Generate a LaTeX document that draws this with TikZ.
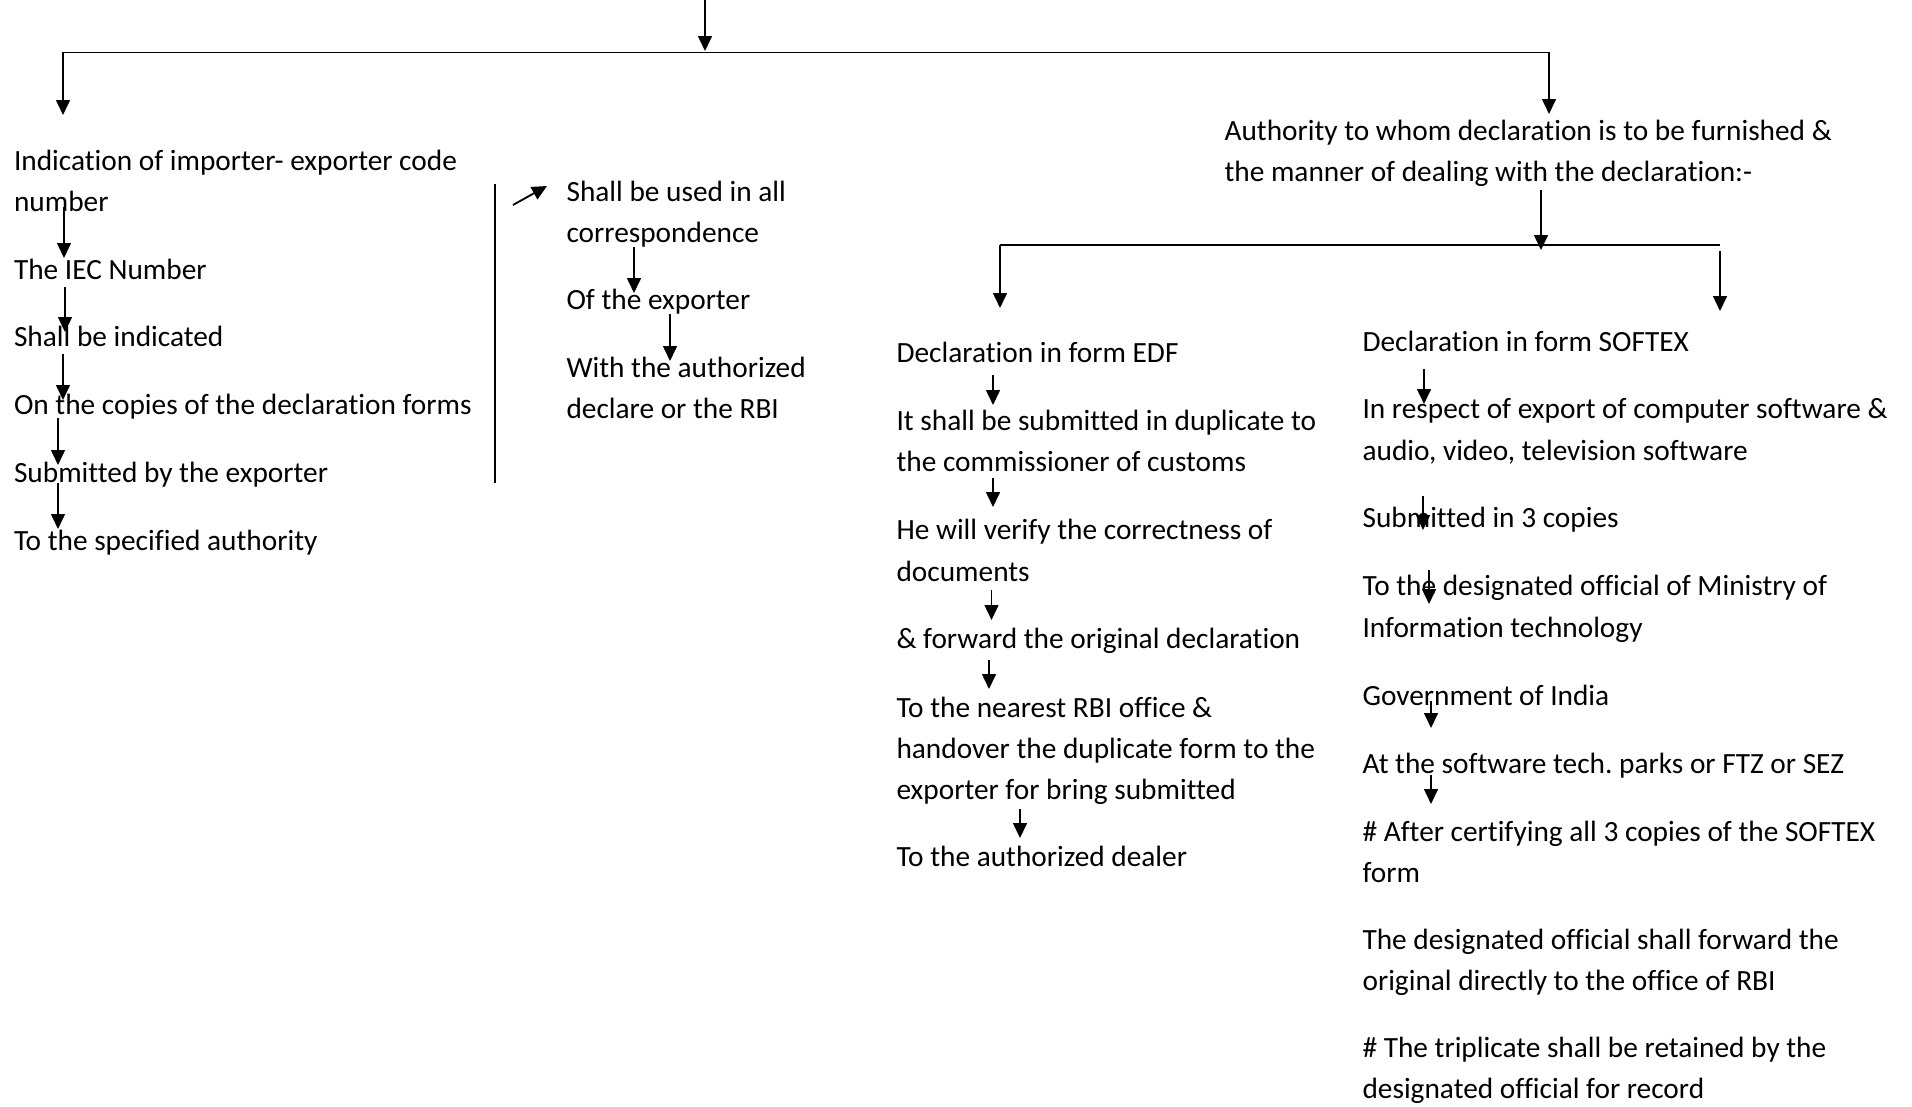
\documentclass[tikz,border=0pt]{standalone}
\usepackage{fontspec}
\setmainfont{Carlito}[Ligatures={NoCommon}]
\usetikzlibrary{arrows.meta}
\begin{document}
\frenchspacing
\begin{tikzpicture}[x=0.375pt,y=-0.375pt,
  txt/.style={anchor=base west, inner sep=0pt, text width=260pt, align=left,
              font=\fontsize{11}{15.4}\selectfont,
              execute at begin node={\spaceskip=0pt\xspaceskip=0pt\relax}},
  link/.style={line width=0.7pt, -{Triangle[length=5.6pt,width=5.2pt]}},
  bar/.style={line width=0.7pt},
  rule/.style={line width=0.5pt}]
\useasboundingbox (0,0) rectangle (1912,1107);

% ---------- text blocks ----------
% left column
\node[txt] (iec) at (13.5,170.5) {Indication of importer- exporter code\\number};
\node[txt] (num) at (13.5,279.5) {The IEC Number};
\node[txt] (ind) at (13.5,347) {Shall be indicated};
\node[txt] (cop) at (13.5,415) {On the copies of the declaration forms};
\node[txt] (sub) at (13.5,483) {Submitted by the exporter};
\node[txt] (spa) at (13.5,550.5) {To the specified authority};

% middle column
\node[txt] (use) at (566,201.5) {Shall be used in all\\correspondence};
\node[txt] (oex) at (566,310) {Of the exporter};
\node[txt] (wad) at (566,377.5) {With the authorized\\declare or the RBI};

% authority heading
\node[txt] (auth) at (1224,140.5) {Authority to whom declaration is to be furnished \&\\the manner of dealing with the declaration:-};

% EDF column
\node[txt] (edf) at (896,362.3) {Declaration in form EDF};
\node[txt] (dup) at (896,430.5) {It shall be submitted in duplicate to\\the commissioner of customs};
\node[txt] (ver) at (896,540) {He will verify the correctness of\\documents};
\node[txt] (fwd) at (896,648.5) {\& forward the original declaration};
\node[txt] (rbi) at (896,717) {To the nearest RBI office \&\\handover the duplicate form to the\\exporter for bring submitted};
\node[txt] (dea) at (896,866) {To the authorized dealer};

% SOFTEX column
\node[txt] (sft) at (1362,351.7) {Declaration in form SOFTEX};
\node[txt] (res) at (1362,419) {In respect of export of computer software \&\\audio, video, television software};
\node[txt] (three) at (1362,528) {Submitted in 3 copies};
\node[txt] (min) at (1362,596) {To the designated official of Ministry of\\Information technology};
\node[txt] (gov) at (1362,705) {Government of India};
\node[txt] (stp) at (1362,773) {At the software tech. parks or FTZ or SEZ};
\node[txt] (cert) at (1362,841.5) {\# After certifying all 3 copies of the SOFTEX\\form};
\node[txt] (orig) at (1362,949) {The designated official shall forward the\\original directly to the office of RBI};
\node[txt] (trip) at (1362,1057.5) {\# The triplicate shall be retained by the\\designated official for record};

% ---------- top branching ----------
\coordinate (t0) at (705,0);
\coordinate (t1) at (705,51);
\coordinate (hl) at (63,52.5);
\coordinate (hr) at (1549,52.5);
\coordinate (lt) at (63,115);
\coordinate (rt) at (1549,114);
\draw[link] (t0) -- (t1);
\draw[bar] (hl) -- (hr);
\draw[link] (hl) -- (lt);
\draw[link] (hr) -- (rt);

% ---------- second branching ----------
\coordinate (a0) at (1541,190);
\coordinate (a1) at (1541,250);
\coordinate (bl) at (1000,245);
\coordinate (br) at (1720,245);
\coordinate (blt) at (1000,308);
\coordinate (brs) at (1720,251);
\coordinate (brt) at (1720,311);
\draw[link] (a0) -- (a1);
\draw[bar] (bl) -- (br);
\draw[link] (bl) -- (blt);
\draw[link] (brs) -- (brt);

% ---------- left column chain ----------
\coordinate (l1s) at (64,207);   \coordinate (l1e) at (64,258);
\coordinate (l2s) at (65,287);   \coordinate (l2e) at (65,332);
\coordinate (l3s) at (63,354);   \coordinate (l3e) at (63,400);
\coordinate (l4s) at (58,418);   \coordinate (l4e) at (58,465);
\coordinate (l5s) at (58,483);   \coordinate (l5e) at (58,529);
\draw[link] (l1s) -- (l1e);
\draw[link] (l2s) -- (l2e);
\draw[link] (l3s) -- (l3e);
\draw[link] (l4s) -- (l4e);
\draw[link] (l5s) -- (l5e);

% divider and middle column
\coordinate (dv0) at (495,184);  \coordinate (dv1) at (495,483);
\draw[rule] (dv0) -- (dv1);
\coordinate (dg0) at (513,205);  \coordinate (dg1) at (547,186);
\draw[link] (dg0) -- (dg1);
\coordinate (m1s) at (634,247);  \coordinate (m1e) at (634,293);
\coordinate (m2s) at (670,314);  \coordinate (m2e) at (670,361);
\draw[link] (m1s) -- (m1e);
\draw[link] (m2s) -- (m2e);

% ---------- EDF chain ----------
\coordinate (e1s) at (993,375);   \coordinate (e1e) at (993,405);
\coordinate (e2s) at (993,478);   \coordinate (e2e) at (993,507);
\coordinate (e3s) at (991.5,590); \coordinate (e3e) at (991.5,620);
\coordinate (e4s) at (989,660);   \coordinate (e4e) at (989,689);
\coordinate (e5s) at (1020,809);  \coordinate (e5e) at (1020,838);
\draw[link] (e1s) -- (e1e);
\draw[link] (e2s) -- (e2e);
\draw[link] (e3s) -- (e3e);
\draw[link] (e4s) -- (e4e);
\draw[link] (e5s) -- (e5e);

% ---------- SOFTEX chain ----------
\coordinate (s1s) at (1424,369);  \coordinate (s1e) at (1424,404);
\coordinate (s2s) at (1423,496);  \coordinate (s2e) at (1423,530);
\coordinate (s3s) at (1429,570);  \coordinate (s3e) at (1429,604);
\coordinate (s4s) at (1431,701);  \coordinate (s4e) at (1431,728);
\coordinate (s5s) at (1431,775);  \coordinate (s5e) at (1431,804);
\draw[link] (s1s) -- (s1e);
\draw[link] (s2s) -- (s2e);
\draw[link] (s3s) -- (s3e);
\draw[link] (s4s) -- (s4e);
\draw[link] (s5s) -- (s5e);
\end{tikzpicture}
\end{document}
